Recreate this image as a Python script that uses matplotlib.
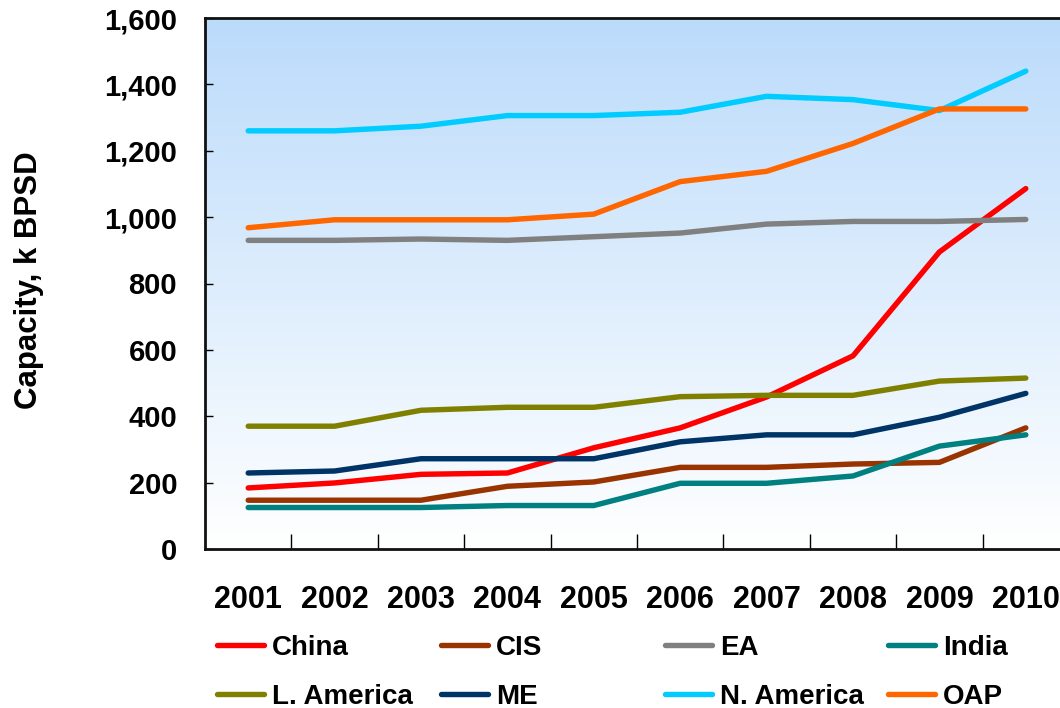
import numpy as np
import matplotlib
matplotlib.use("Agg")
import matplotlib.pyplot as plt
from matplotlib.lines import Line2D
from matplotlib.colors import LinearSegmentedColormap

plt.rcParams['font.family'] = ['Liberation Sans', 'DejaVu Sans']
plt.rcParams['font.weight'] = 'bold'

years = ['2001', '2002', '2003', '2004', '2005', '2006', '2007', '2008', '2009', '2010']
china = [184, 199, 225, 229, 305, 365, 458, 582, 895, 1086]
cis = [147, 147, 147, 189, 202, 246, 246, 256, 261, 365]
ea = [930, 930, 934, 930, 941, 952, 979, 987, 987, 993]
india = [125, 125, 125, 131, 131, 198, 198, 220, 310, 344]
l_america = [370, 370, 418, 427, 427, 459, 463, 463, 506, 515]
me = [229, 235, 272, 272, 272, 323, 344, 344, 397, 469]
n_america = [1260, 1260, 1274, 1306, 1306, 1316, 1364, 1354, 1321, 1440]
oap = [968, 992, 992, 992, 1009, 1107, 1138, 1222, 1326, 1326]

series = [
    ('China', china, '#FF0000'),
    ('CIS', cis, '#993300'),
    ('EA', ea, '#808080'),
    ('India', india, '#008080'),
    ('L. America', l_america, '#808000'),
    ('ME', me, '#003366'),
    ('N. America', n_america, '#00CCFF'),
    ('OAP', oap, '#FF6600'),
]

fig = plt.figure(figsize=(10.6, 7.08), dpi=100)
W, H = 1060, 708
ax = fig.add_axes([205 / W, 1 - 549 / H, 864 / W, 531 / H])

# gradient background
cmap = LinearSegmentedColormap.from_list('bg', ['#FFFFFF', '#BBDBFB'])
grad = np.linspace(0, 1, 256).reshape(-1, 1)
ax.imshow(grad, cmap=cmap, aspect='auto', extent=[0, 1, 0, 1],
          transform=ax.transAxes, origin='lower', zorder=0)

x = np.arange(len(years))
for name, vals, col in series:
    ax.plot(x, vals, color=col, lw=3.9, solid_capstyle='round',
            solid_joinstyle='round', zorder=3)

ax.set_xlim(-0.5, len(years) - 0.5)
ax.set_ylim(0, 1600)
ax.set_yticks(np.arange(0, 1601, 200))
ax.set_yticklabels([f'{v:,}' for v in range(0, 1601, 200)])
ax.tick_params(axis='y', direction='in', length=6, width=1, pad=20,
               labelsize=21)
ax.set_xticks(np.arange(0.5, len(years) - 1, 1.0))
ax.set_xticklabels([])
ax.tick_params(axis='x', which='major', direction='in', length=11, width=1)
ax.set_xticks(x, minor=True)
ax.set_xticklabels(years, minor=True)
ax.tick_params(axis='x', which='minor', length=0, pad=26, labelsize=22)
for lab in ax.get_xticklabels(minor=True) + ax.get_yticklabels():
    lab.set_fontweight('bold')

for s in ax.spines.values():
    s.set_linewidth(2)
    s.set_color('#111111')

fig.text(29 / W, 1 - 280 / H, 'Capacity, k BPSD', rotation=90,
         ha='center', va='center', fontsize=22.5, fontweight='bold')

# legend (2 rows x 4 columns)
col_x = [217, 441, 665, 888]
row_y = [645, 694]
for i, (name, vals, col) in enumerate(series):
    r, c = divmod(i, 4)
    x0 = col_x[c]
    yy = 1 - row_y[r] / H
    fig.add_artist(Line2D([x0 / W, (x0 + 47) / W], [yy, yy], color=col,
                          lw=3.9, solid_capstyle='round',
                          transform=fig.transFigure))
    fig.text((x0 + 55) / W, yy, name, ha='left', va='center_baseline',
             fontsize=20, fontweight='bold')

fig.savefig('out.png', dpi=100)
